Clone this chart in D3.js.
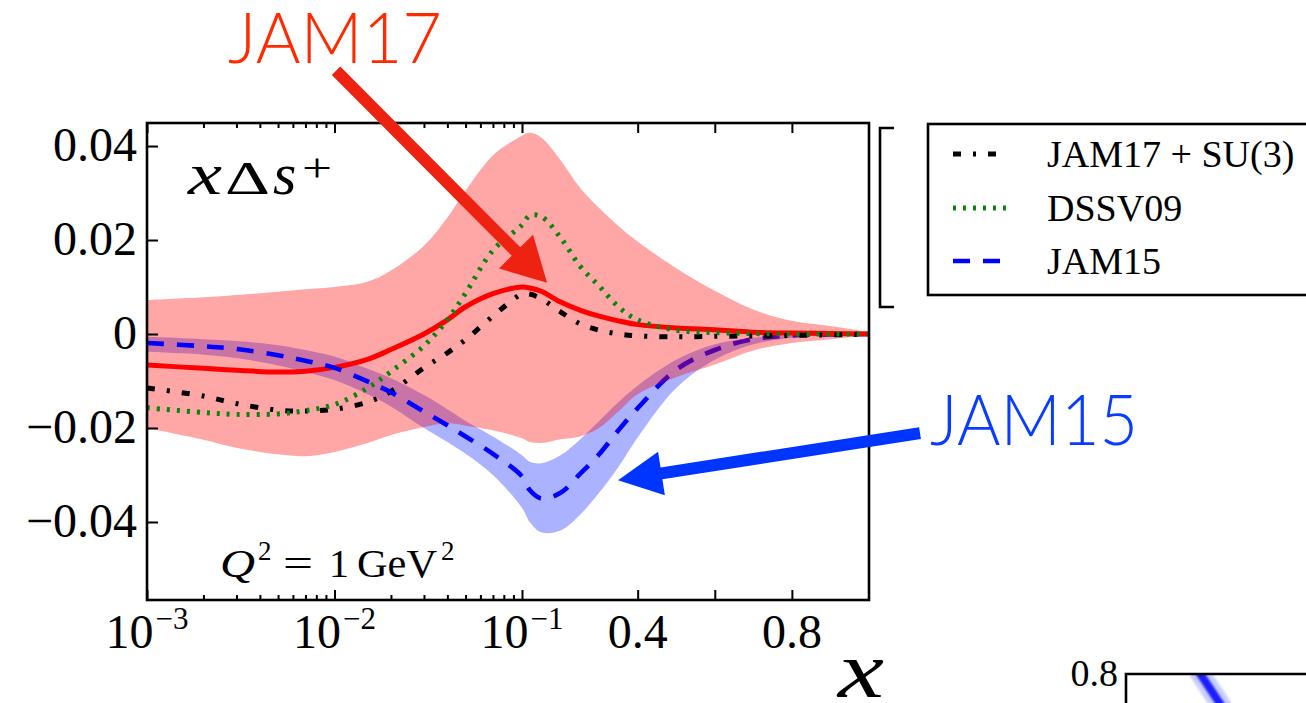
<!DOCTYPE html>
<html>
<head>
<meta charset="utf-8">
<script src="https://cdn.jsdelivr.net/npm/d3@7"></script>
<style>
  html, body { margin: 0; padding: 0; background: #fff; overflow: hidden; }
  svg { display: block; }
</style>
</head>
<body>
<svg id="chart" width="1306" height="703"></svg>
<script>
// ---- data: x Δs+ at Q^2 = 1 GeV^2 ----
const xs = [0.001, 0.002, 0.003, 0.005, 0.007, 0.01, 0.015, 0.02, 0.03, 0.04, 0.05, 0.07,
            0.1, 0.12, 0.15, 0.2, 0.25, 0.3, 0.35, 0.4, 0.5, 0.6, 0.7, 0.8, 0.9, 1.0];

const jam17Mean  = [-0.0066, -0.0073, -0.0077, -0.0081, -0.0079, -0.0071, -0.0054, -0.0033, 0.0000, 0.0030, 0.0058, 0.0086,
                    0.0100, 0.0098, 0.0091, 0.0068, 0.0051, 0.0038, 0.0028, 0.0020, 0.0013, 0.0009, 0.0004, 0.0002, 0.0001, 0.0000];
const jam17Upper = [0.0072, 0.0078, 0.0083, 0.0090, 0.0095, 0.0100, 0.0111, 0.0135, 0.0188, 0.0248, 0.0305, 0.0380,
                    0.0422, 0.0428, 0.0418, 0.0370, 0.0312, 0.0268, 0.0230, 0.0197, 0.0140, 0.0092, 0.0052, 0.0028, 0.0017, 0.0004];
const jam17Lower = [-0.0200, -0.0225, -0.0242, -0.0256, -0.0260, -0.0251, -0.0232, -0.0215, -0.0198, -0.0190, -0.0195, -0.0205,
                    -0.0222, -0.0230, -0.0232, -0.0224, -0.0218, -0.0200, -0.0165, -0.0128, -0.0092, -0.0065, -0.0035, -0.0019, -0.0011, -0.0002];
const jam17SU3   = [-0.0115, -0.0132, -0.0148, -0.0162, -0.0164, -0.0160, -0.0145, -0.0122, -0.0072, -0.0040, -0.0012, 0.0038,
                    0.0085, 0.0085, 0.0075, 0.0047, 0.0022, 0.0008, 0.0000, -0.0004, -0.0006, -0.0005, -0.0004, -0.0003, -0.0002, 0.0000];
const dssv09     = [-0.0157, -0.0167, -0.0171, -0.0170, -0.0163, -0.0150, -0.0115, -0.0080, -0.0025, 0.0030, 0.0087, 0.0178,
                    0.0232, 0.0252, 0.0250, 0.0205, 0.0145, 0.0102, 0.0058, 0.0030, 0.0008, 0.0003, 0.0001, 0.0000, 0.0000, 0.0000];
const jam15Mean  = [-0.0019, -0.0026, -0.0032, -0.0045, -0.0057, -0.0072, -0.0101, -0.0124, -0.0165, -0.0194, -0.0218, -0.0255,
                    -0.0303, -0.0332, -0.0350, -0.0338, -0.0298, -0.0256, -0.0205, -0.0158, -0.0076, -0.0034, -0.0011, -0.0003, -0.0001, 0.0000];
const jam15Upper = [-0.0006, -0.0011, -0.0015, -0.0024, -0.0034, -0.0048, -0.0074, -0.0094, -0.0130, -0.0160, -0.0185, -0.0218,
                    -0.0258, -0.0272, -0.0275, -0.0258, -0.0225, -0.0185, -0.0145, -0.0110, -0.0055, -0.0022, -0.0008, -0.0002, 0.0000, 0.0000];
const jam15Lower = [-0.0038, -0.0044, -0.0051, -0.0067, -0.0081, -0.0098, -0.0128, -0.0154, -0.0200, -0.0230, -0.0255, -0.0300,
                    -0.0370, -0.0400, -0.0422, -0.0418, -0.0385, -0.0338, -0.0283, -0.0220, -0.0115, -0.0055, -0.0022, -0.0008, -0.0002, 0.0000];

const yTicks = [-0.04, -0.02, 0, 0.02, 0.04];
const yTickLabels = ["\u22120.04", "\u22120.02", "0", "0.02", "0.04"];
const xLogMajor = [0.001, 0.01, 0.1];
const xLogLabels = [["10", "\u22123"], ["10", "\u22122"], ["10", "\u22121"]];
const xLinMajor = [0.4, 0.6, 0.8];
const xLinLabels = ["0.4", "", "0.8"];

const legendNames = ["JAM17 + SU(3)", "DSSV09", "JAM15"];

// fragment of the neighbouring panel (bottom right)
const nextPanelTick = [0.8];
const nextPanelX = [0.113, 0.168];
const nextPanelY = [0.82, 0.72];

// ---- layout ----
const svg = d3.select("#chart");
const plot = { left: 147, right: 869, top: 123, bottom: 600 };
const xSplit = 522; // pixel where the log part (x<0.1) hands over to the linear part

const xLog = d3.scaleLog().domain([1e-3, 0.1]).range([plot.left, xSplit]);
const xLin = d3.scaleLinear().domain([0.1, 1]).range([xSplit, plot.right]);
const xPos = v => (v < 0.1 ? xLog(v) : xLin(v));
const y = d3.scaleLinear().domain([-0.0566, 0.0449]).range([plot.bottom, plot.top]);

const serif = "'Liberation Serif', 'Times New Roman', serif";

const defs = svg.append("defs");
defs.append("clipPath").attr("id", "clipLeft").append("rect")
  .attr("x", plot.left).attr("y", plot.top).attr("width", xSplit - plot.left).attr("height", plot.bottom - plot.top);
defs.append("clipPath").attr("id", "clipRight").append("rect")
  .attr("x", xSplit).attr("y", plot.top).attr("width", plot.right - xSplit).attr("height", plot.bottom - plot.top);
defs.append("filter").attr("id", "soft").append("feGaussianBlur").attr("stdDeviation", 0.9);

const pts = arr => xs.map((x, i) => [xPos(x), y(arr[i])]);
const band = (lo, hi) => xs.map((x, i) => ({ x: xPos(x), lo: y(lo[i]), hi: y(hi[i]) }));

const lineGen = d3.line().curve(d3.curveCatmullRom.alpha(0.5));
const areaGen = d3.area().x(d => d.x).y0(d => d.lo).y1(d => d.hi).curve(d3.curveCatmullRom.alpha(0.5));

const styles = {
  jam17: { stroke: "#ff0000", width: 5, dash: null },
  su3:   { stroke: "#000000", width: 5, dash: "8,12,3,12" },
  dssv:  { stroke: "#0b840b", width: 5, dash: "3,7" },
  jam15: { stroke: "#0000ff", width: 4.6, dash: "17,13" }
};
const bandFill = { jam17: "rgba(255,0,0,0.35)", jam15: "rgba(0,20,255,0.33)" };

function drawBand(g, lo, hi, fill) {
  g.append("path").attr("d", areaGen(band(lo, hi))).attr("fill", fill).attr("stroke", "none");
}
function drawLine(g, arr, st) {
  g.append("path").attr("d", lineGen(pts(arr)))
    .attr("fill", "none").attr("stroke", st.stroke).attr("stroke-width", st.width)
    .attr("stroke-dasharray", st.dash).attr("stroke-linejoin", "round");
}

// log part (x < 0.1)
const gL = svg.append("g").attr("clip-path", "url(#clipLeft)");
drawBand(gL, jam15Lower, jam15Upper, bandFill.jam15);
drawBand(gL, jam17Lower, jam17Upper, bandFill.jam17);
drawLine(gL, jam17Mean, styles.jam17);
drawLine(gL, jam17SU3, styles.su3);
drawLine(gL, dssv09, styles.dssv);
drawLine(gL, jam15Mean, styles.jam15);

// linear part (x >= 0.1)
const gR = svg.append("g").attr("clip-path", "url(#clipRight)");
drawBand(gR, jam15Lower, jam15Upper, bandFill.jam15);
drawLine(gR, jam15Mean, styles.jam15);
drawBand(gR, jam17Lower, jam17Upper, bandFill.jam17);
drawLine(gR, jam17Mean, styles.jam17);
drawLine(gR, jam17SU3, styles.su3);
drawLine(gR, dssv09, styles.dssv);

// ---- axes (ticks point inward) ----
const minorLog = [];
[1e-3, 1e-2].forEach(d => { for (let k = 2; k <= 9; k++) minorLog.push(k * d); });

function tickAxis(axisFn, scale, values, size, tr) {
  const g = svg.append("g").attr("transform", tr)
    .call(axisFn(scale).tickValues(values).tickSize(-size).tickFormat(""));
  g.select(".domain").remove();
  g.selectAll(".tick line").attr("stroke", "#000").attr("stroke-width", 2);
  return g;
}
tickAxis(d3.axisBottom, xLog, minorLog, 5, `translate(0,${plot.bottom})`);
tickAxis(d3.axisBottom, xLog, xLogMajor, 10, `translate(0,${plot.bottom})`);
tickAxis(d3.axisBottom, xLin, xLinMajor, 10, `translate(0,${plot.bottom})`);
tickAxis(d3.axisTop, xLog, minorLog, 5, `translate(0,${plot.top})`);
tickAxis(d3.axisTop, xLog, xLogMajor, 10, `translate(0,${plot.top})`);
tickAxis(d3.axisTop, xLin, xLinMajor, 10, `translate(0,${plot.top})`);
tickAxis(d3.axisLeft, y, yTicks, 11, `translate(${plot.left},0)`);

// frame
svg.append("rect").attr("x", plot.left).attr("y", plot.top)
  .attr("width", plot.right - plot.left).attr("height", plot.bottom - plot.top)
  .attr("fill", "none").attr("stroke", "#000").attr("stroke-width", 2.6);

// y tick labels
svg.append("g").selectAll("text").data(yTicks).join("text")
  .attr("x", 137).attr("y", d => y(d) + 15)
  .attr("text-anchor", "end").attr("font-family", serif).attr("font-size", 48)
  .text((d, i) => yTickLabels[i]);

// x tick labels: powers of ten on the log part
const xl = svg.append("g").selectAll("text").data(xLogMajor).join("text")
  .attr("x", d => xLog(d)).attr("y", 648)
  .attr("text-anchor", "middle").attr("font-family", serif).attr("font-size", 48);
xl.append("tspan").text((d, i) => xLogLabels[i][0]);
xl.append("tspan").attr("font-size", 31).attr("dy", -19).attr("dx", 2).text((d, i) => xLogLabels[i][1]);

svg.append("g").selectAll("text").data(xLinMajor).join("text")
  .attr("x", d => xLin(d)).attr("y", 648)
  .attr("text-anchor", "middle").attr("font-family", serif).attr("font-size", 48)
  .text((d, i) => xLinLabels[i]);

// axis title x
svg.append("text").attr("x", 838).attr("y", 697)
  .attr("font-family", serif).attr("font-style", "italic").attr("font-size", 80)
  .attr("textLength", 46).attr("lengthAdjust", "spacingAndGlyphs").text("x");

// panel label  x Δs+
const lab = svg.append("g").attr("font-family", serif);
lab.append("text").attr("x", 188).attr("y", 194).attr("font-style", "italic").attr("font-size", 60)
  .attr("textLength", 34).attr("lengthAdjust", "spacingAndGlyphs").text("x");
lab.append("text").attr("x", 225).attr("y", 194).attr("font-size", 46)
  .attr("textLength", 45).attr("lengthAdjust", "spacingAndGlyphs").text("\u0394");
lab.append("text").attr("x", 273).attr("y", 194).attr("font-style", "italic").attr("font-size", 60).text("s");
lab.append("text").attr("x", 302).attr("y", 181).attr("font-size", 40)
  .attr("textLength", 30).attr("lengthAdjust", "spacingAndGlyphs").text("+");

// Q^2 = 1 GeV^2
const q = svg.append("g").attr("font-family", serif).attr("font-size", 40);
q.append("text").attr("x", 220).attr("y", 577).attr("font-style", "italic")
  .attr("textLength", 35).attr("lengthAdjust", "spacingAndGlyphs").text("Q");
q.append("text").attr("x", 258).attr("y", 560).attr("font-size", 27).text("2");
q.append("text").attr("x", 283).attr("y", 577).attr("textLength", 30).attr("lengthAdjust", "spacingAndGlyphs").text("=");
q.append("text").attr("x", 329).attr("y", 577).text("1");
q.append("text").attr("x", 357).attr("y", 577).attr("textLength", 80).attr("lengthAdjust", "spacingAndGlyphs").text("GeV");
q.append("text").attr("x", 441).attr("y", 560).attr("font-size", 27).text("2");

// ---- legend ----
svg.append("path").attr("d", "M894,128 H880 V307 H894")
  .attr("fill", "none").attr("stroke", "#000").attr("stroke-width", 2.6);
svg.append("rect").attr("x", 928).attr("y", 124).attr("width", 420).attr("height", 171)
  .attr("fill", "#fff").attr("stroke", "#000").attr("stroke-width", 2.6);
const legendStyles = [styles.su3, styles.dssv, styles.jam15];
const legendRowY = [154, 208, 261];
const lg = svg.append("g").selectAll("g").data(legendNames).join("g")
  .attr("transform", (d, i) => `translate(0,${legendRowY[i]})`);
lg.append("line").attr("x1", 953).attr("x2", 1007).attr("y1", 0).attr("y2", 0)
  .attr("stroke", (d, i) => legendStyles[i].stroke)
  .attr("stroke-width", (d, i) => legendStyles[i].width)
  .attr("stroke-dasharray", (d, i) => legendStyles[i].dash);
lg.append("text").attr("x", 1047).attr("y", 13)
  .attr("font-family", serif).attr("font-size", 38).text(d => d);

// ---- annotations ----
function arrow(tip, dx, dy, shaft, headLen, headW, color) {
  const [tx, ty] = tip;
  const sx = tx + dx, sy = ty + dy;
  const L = Math.hypot(dx, dy);
  const ux = -dx / L, uy = -dy / L;          // unit vector tail -> tip
  const nx = -uy, ny = ux;                   // normal
  const bx = tx - ux * headLen, by = ty - uy * headLen;
  const p = [
    [sx + nx * shaft / 2, sy + ny * shaft / 2],
    [bx + nx * shaft / 2, by + ny * shaft / 2],
    [bx + nx * headW / 2, by + ny * headW / 2],
    [tx, ty],
    [bx - nx * headW / 2, by - ny * headW / 2],
    [bx - nx * shaft / 2, by - ny * shaft / 2],
    [sx - nx * shaft / 2, sy - ny * shaft / 2]
  ];
  svg.append("path").attr("d", "M" + p.map(d => d.join(",")).join("L") + "Z").attr("fill", color);
}
arrow([xPos(0.165), y(0.0109)], -211, -212, 12, 44, 48, "#ee2211");
arrow([xPos(0.349), y(-0.0311)], 302, -47, 12, 44, 44, "#0035ff");

svg.append("text").attr("x", 228).attr("y", 63)
  .attr("font-family", "Lato, 'Open Sans', sans-serif").attr("font-weight", 300).attr("font-size", 70)
  .attr("fill", "#ff2a00").attr("textLength", 214).attr("lengthAdjust", "spacingAndGlyphs").text("JAM17");
svg.append("text").attr("x", 930).attr("y", 445)
  .attr("font-family", "Lato, 'Open Sans', sans-serif").attr("font-weight", 300).attr("font-size", 70)
  .attr("fill", "#0a3cff").attr("textLength", 208).attr("lengthAdjust", "spacingAndGlyphs").text("JAM15");

// ---- neighbouring panel (cut off at the page edge) ----
const x2 = d3.scaleLinear().domain([0, 1]).range([1126, 1726]);
const y2 = d3.scaleLinear().domain([0.6, 0.8]).range([774, 674]);
defs.append("clipPath").attr("id", "clipNext").append("rect")
  .attr("x", 1126).attr("y", 674).attr("width", 200).attr("height", 60);
const gN = svg.append("g").attr("clip-path", "url(#clipNext)");
const nextPts = nextPanelX.map((v, i) => [x2(v), y2(nextPanelY[i])]);
gN.append("path").attr("d", d3.line()(nextPts)).attr("stroke", "rgba(40,60,255,0.25)")
  .attr("stroke-width", 20).attr("fill", "none").attr("filter", "url(#soft)");
gN.append("path").attr("d", d3.line()(nextPts)).attr("stroke", "#1a1aff")
  .attr("stroke-width", 8).attr("fill", "none").attr("filter", "url(#soft)");
svg.append("path").attr("d", `M${x2(0)},703 V${y2(0.8)} H1310`)
  .attr("fill", "none").attr("stroke", "#000").attr("stroke-width", 2.6);
svg.append("text").attr("x", 1118).attr("y", y2(nextPanelTick[0]) + 12)
  .attr("text-anchor", "end").attr("font-family", serif).attr("font-size", 38).text("0.8");
</script>
</body>
</html>
